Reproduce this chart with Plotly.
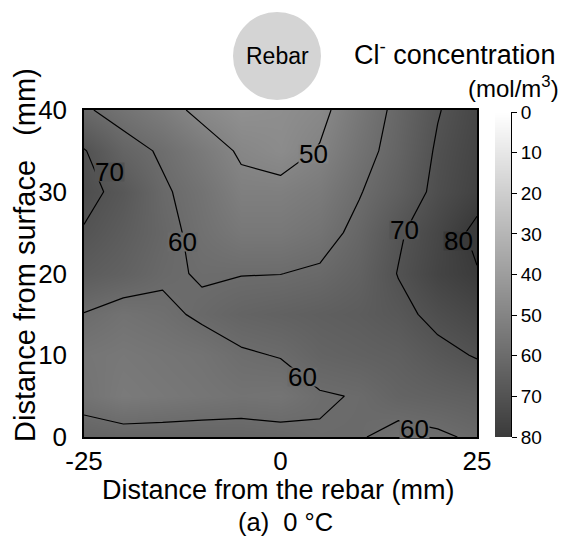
import plotly.graph_objects as go

# Measurement grid (mm)
x_mm = [-25, -20, -15, -10, -5, 0, 5, 10, 15, 20, 25]
y_mm = [0, 5, 10, 15, 20, 25, 30, 35, 40]

# Cl- concentration (mol/m3), one row per depth y_mm
conc = [
    [63.5, 62.8, 62.8, 62.8, 62.5, 62.0, 60.4, 60.5, 58.0, 59.0, 61.0],  # y = 0
    [57.0, 54.0, 55.0, 56.0, 57.0, 56.5, 59.5, 60.3, 63.0, 64.0, 65.0],  # y = 5
    [56.0, 55.0, 56.0, 57.0, 59.25, 60.3, 63.0, 64.0, 65.0, 68.0, 70.5], # y = 10
    [59.75, 57.3, 58.55, 61.0, 63.0, 64.0, 65.0, 66.0, 68.0, 72.0, 75.0],# y = 15
    [66.0, 64.0, 61.0, 59.5, 59.8, 59.9, 61.0, 64.0, 70.3, 76.0, 79.5], # y = 20
    [69.5, 66.0, 62.0, 58.0, 55.0, 55.0, 57.0, 62.0, 69.0, 75.0, 82.0], # y = 25
    [72.0, 68.0, 61.0, 57.0, 52.0, 52.0, 54.0, 59.5, 65.0, 72.0, 77.0], # y = 30
    [70.5, 63.0, 59.0, 54.0, 49.0, 47.0, 50.5, 57.0, 63.0, 71.0, 76.0], # y = 35
    [61.0, 57.0, 53.0, 48.0, 45.0, 46.0, 48.0, 55.0, 62.0, 69.5, 75.0], # y = 40
]

# Contour levels and where their labels sit (mm)
label_levels = [70, 50, 60, 70, 80, 60, 60]
label_x = [-21.8, 4.2, -12.5, 15.8, 22.6, 2.8, 17.1]
label_y = [32.4, 34.6, 23.8, 25.3, 24.0, 7.3, 1.0]

# Colour bar ticks (mol/m3)
cbar_ticks = [0, 10, 20, 30, 40, 50, 60, 70, 80]

x_ticks = [-25, 0, 25]
y_ticks = [0, 10, 20, 30, 40]

ZMIN, ZMAX = 0, 80
LIGHT, DARK = 255, 58
gray_scale = [[0, f"rgb({LIGHT},{LIGHT},{LIGHT})"], [1, f"rgb({DARK},{DARK},{DARK})"]]
FONT = "Liberation Sans, Arial, sans-serif"


def level_color(v):
    t = (v - ZMIN) / (ZMAX - ZMIN)
    g = round(LIGHT + (DARK - LIGHT) * t)
    return f"rgb({g},{g},{g})"


fig = go.Figure()

fig.add_trace(go.Contour(
    x=x_mm, y=y_mm, z=conc,
    colorscale=gray_scale, zmin=ZMIN, zmax=ZMAX,
    contours=dict(start=50, end=80, size=10, coloring="heatmap",
                  showlabels=False),
    line=dict(color="black", width=1.2, smoothing=0),
    showscale=False, hoverinfo="skip",
))

# Vertical grey ramp used as the colour key (0 at the top)
fig.add_trace(go.Heatmap(
    x=[0, 1], y=cbar_ticks, z=[[v, v] for v in cbar_ticks],
    colorscale=gray_scale, zmin=ZMIN, zmax=ZMAX, zsmooth="best",
    showscale=False, xaxis="x2", yaxis="y2", hoverinfo="skip",
))

W, H = 565, 546
L, R, T, B = 84, 54, 110, 109
pw = W - L - R
ph = H - T - B


def px_x(p):
    return (p - L) / pw


def px_y(p):
    return (H - B - p) / ph


fig.update_layout(
    width=W, height=H,
    margin=dict(l=L, r=R, t=T, b=B),
    paper_bgcolor="white", plot_bgcolor="white",
    font=dict(family=FONT, size=26, color="black"),
    showlegend=False,
    xaxis=dict(domain=[0, px_x(477)], range=[-25, 25],
               tickvals=x_ticks, ticktext=[str(v) for v in x_ticks],
               showgrid=False, zeroline=False, showline=True, mirror=True,
               linecolor="black", linewidth=1.5, ticks="",
               ticklabelstandoff=0, tickfont=dict(size=26)),
    yaxis=dict(domain=[0, 1], range=[0, 40],
               tickvals=y_ticks, ticktext=[str(v) for v in y_ticks],
               showgrid=False, zeroline=False, showline=True, mirror=True,
               linecolor="black", linewidth=1.5, ticks="",
               ticklabelstandoff=10, tickfont=dict(size=26)),
    xaxis2=dict(domain=[px_x(495), 1], range=[0, 1], showticklabels=False,
                showgrid=False, zeroline=False, ticks="", anchor="y2"),
    yaxis2=dict(domain=[0, px_y(112)], range=[80, 0],
                tickvals=cbar_ticks, ticktext=[str(v) for v in cbar_ticks],
                side="right", anchor="x2", showgrid=False, zeroline=False,
                showline=True, linecolor="black", linewidth=1,
                ticks="outside", ticklen=5, tickcolor="black",
                tickfont=dict(size=19)),
)

# Contour labels, backed by the level's own grey so the line breaks there
for lv, lx, ly in zip(label_levels, label_x, label_y):
    fig.add_annotation(x=lx, y=ly, xref="x", yref="y", text=str(lv),
                       showarrow=False, xanchor="center", yanchor="middle",
                       font=dict(size=26, color="black"),
                       bgcolor=level_color(lv), borderpad=0, height=18)

# Rebar cross-section above the specimen
fig.add_shape(type="circle", xref="paper", yref="paper",
              xsizemode="pixel", ysizemode="pixel",
              xanchor=px_x(277), yanchor=px_y(56),
              x0=-44, x1=44, y0=-44, y1=44,
              fillcolor="rgb(212,212,212)", line=dict(width=0), layer="below")


def note(text, x, y, size, xanchor="center", angle=0):
    fig.add_annotation(x=x, y=y, xref="paper", yref="paper", text=text,
                       showarrow=False, xanchor=xanchor, yanchor="middle",
                       textangle=angle, font=dict(size=size))


note("Rebar", px_x(277), px_y(56), 23)
note("Cl<sup>-</sup> concentration", px_x(557), px_y(53), 27, xanchor="right")
note("(mol/m<sup>3</sup>)", px_x(561), px_y(87), 24, xanchor="right")
note("Distance from the rebar (mm)", px_x(278), px_y(490), 27)
note("(a)  0 °C", px_x(285), px_y(522), 25.5)
note("Distance from surface   (mm)", px_x(25), px_y(255), 29, angle=-90)

fig.write_html("out.html")
